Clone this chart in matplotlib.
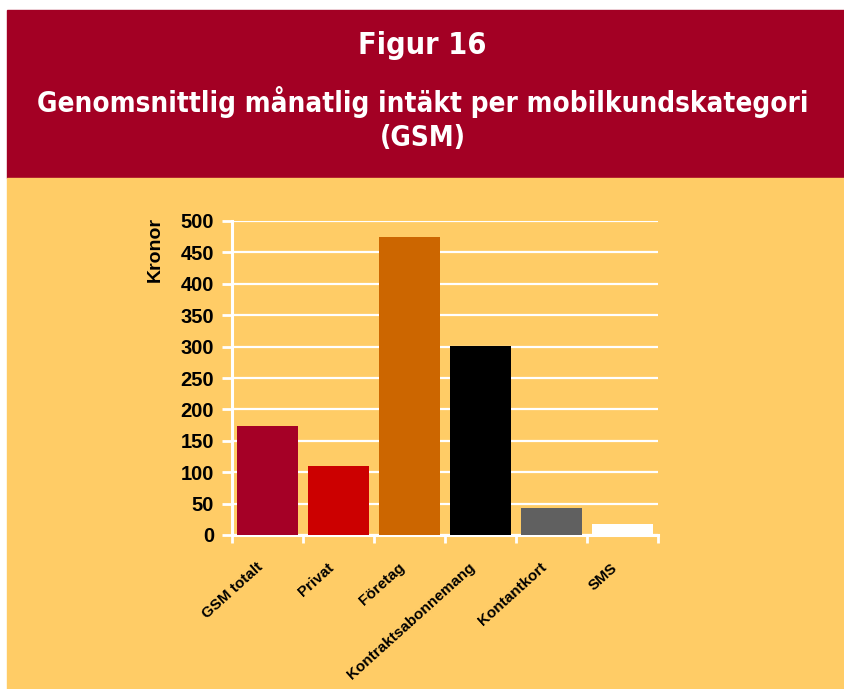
import matplotlib.pyplot as plt
from matplotlib.patches import Rectangle
from matplotlib.transforms import ScaledTranslation

categories = ["GSM totalt", "Privat", "Företag", "Kontraktsabonnemang", "Kontantkort", "SMS"]
values = [174, 110, 475, 301, 43, 17]
bar_colors = ["#A50026", "#CC0000", "#CC6600", "#000000", "#606060", "#FFFFFF"]
y_ticks = [0, 50, 100, 150, 200, 250, 300, 350, 400, 450, 500]

HEADER = "#A30024"
BG = "#FFCC66"

fig = plt.figure(figsize=(8.45, 6.89), dpi=100)
fig.patch.set_facecolor("white")

# header band and orange panel
fig.patches.append(Rectangle((7 / 845, 1 - 178 / 689), 1, 168 / 689,
                             transform=fig.transFigure, color=HEADER, zorder=-5))
fig.patches.append(Rectangle((7 / 845, 0), 1, 1 - 178 / 689,
                             transform=fig.transFigure, color=BG, zorder=-5))

title_font = dict(family="DejaVu Sans", stretch="condensed", weight="bold", color="white",
                  ha="center", va="center")
fig.text(0.5, 1 - 46 / 689, "Figur 16", fontsize=22, **title_font)
fig.text(0.5, 1 - 102 / 689, "Genomsnittlig månatlig intäkt per mobilkundskategori", fontsize=20, **title_font)
fig.text(0.5, 1 - 138 / 689, "(GSM)", fontsize=20, **title_font)

ax = fig.add_axes([232 / 845, 1 - 535 / 689, 426 / 845, 314 / 689])
ax.set_zorder(5)
ax.set_facecolor(BG)
x = list(range(len(categories)))
ax.bar(x, values, width=0.85, color=bar_colors, edgecolor="none", zorder=3)

ax.set_xlim(-0.5, len(categories) - 0.5)
ax.set_ylim(0, 500)
ax.set_yticks(y_ticks)
ax.yaxis.grid(True, color="white", lw=1.6, zorder=1)

for side in ["top", "right"]:
    ax.spines[side].set_visible(False)
for side in ["left", "bottom"]:
    ax.spines[side].set_color("white")
    ax.spines[side].set_linewidth(2.2)

ax.tick_params(axis="y", colors="white", length=7, width=2, labelcolor="black",
               labelsize=14.5, pad=6)
for lbl in ax.get_yticklabels():
    lbl.set_fontweight("bold")
    lbl.set_family("Liberation Sans")

# category labels between boundary ticks
ax.set_xticks([i - 0.5 for i in range(len(categories) + 1)])
ax.set_xticklabels([])
ax.tick_params(axis="x", colors="white", length=6, width=2)
ax.set_xticks(x, minor=True)
ax.set_xticklabels(categories, minor=True, rotation=42, ha="right", va="center",
                   rotation_mode="anchor", fontsize=11, fontweight="bold",
                   family="Liberation Sans")
ax.tick_params(axis="x", which="minor", length=0, pad=22)
shift = ScaledTranslation(-7 / 100, 0, fig.dpi_scale_trans)
for lbl in ax.get_xticklabels(minor=True):
    lbl.set_transform(lbl.get_transform() + shift)

fig.text(155 / 845, 1 - 250 / 689, "Kronor", rotation=90, ha="center", va="center",
         fontsize=14, fontweight="bold", family="Liberation Sans")

fig.savefig("out.png", dpi=100)
